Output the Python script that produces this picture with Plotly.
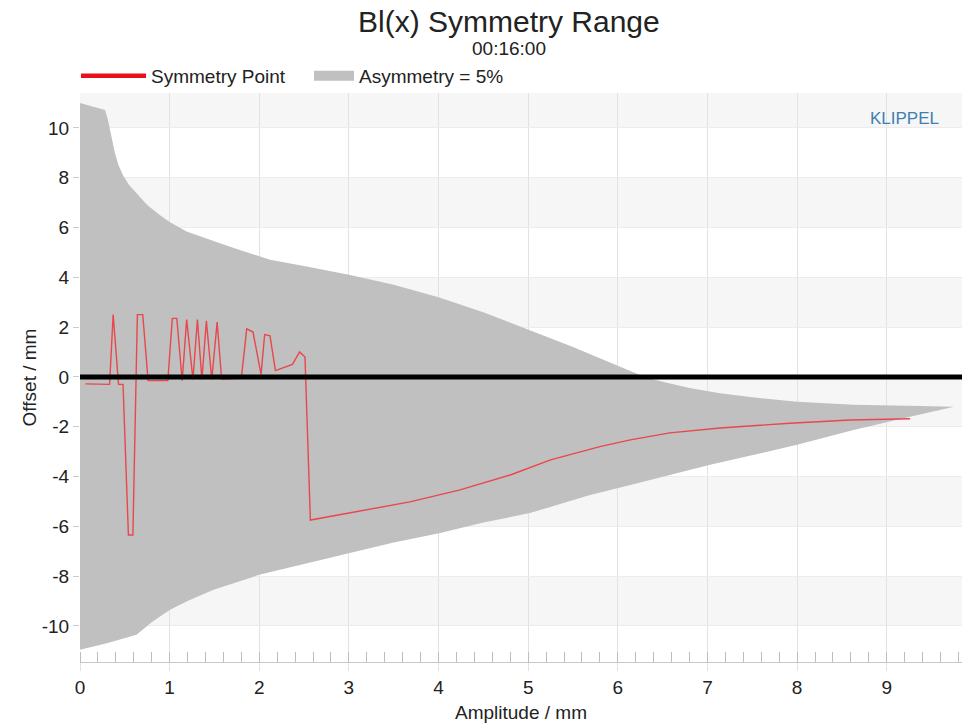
import plotly.graph_objects as go

# ---- data ----
upper_x = [0, 0.28, 0.31, 0.335, 0.36, 0.39, 0.43, 0.48, 0.55, 0.63, 0.75, 0.89, 1.0, 1.19, 1.37, 1.56, 1.8,
           2.12, 2.5, 3.0, 3.5, 4.0, 4.5, 5.0, 5.5, 6.0, 6.3, 6.5, 6.8, 7.14, 7.5, 8.0, 8.63, 9.38, 9.75]
upper_y = [11.0, 10.72, 10.35, 9.92, 9.45, 8.98, 8.5, 8.1, 7.7, 7.38, 6.9, 6.5, 6.22, 5.84, 5.6, 5.37, 5.08,
           4.7, 4.45, 4.1, 3.7, 3.2, 2.6, 1.9, 1.2, 0.45, 0.0, -0.2, -0.45, -0.66, -0.82, -1.0, -1.12, -1.17, -1.2]
lower_x = [0, 0.3, 0.63, 0.8, 1.0, 1.2, 1.49, 2.0, 2.46, 3.01, 3.5, 4.02, 4.5, 5.02, 5.69,
           6.14, 7.03, 8.0, 8.63, 9.26, 9.75]
lower_y = [-10.96, -10.7, -10.36, -9.85, -9.36, -9.0, -8.55, -7.95, -7.55, -7.07, -6.65, -6.27, -5.85, -5.47, -4.74,
           -4.34, -3.53, -2.73, -2.13, -1.6, -1.2]

sym_x = [0.06, 0.33, 0.37, 0.43, 0.48, 0.54, 0.59, 0.64, 0.70, 0.76, 0.98, 1.03, 1.08, 1.14, 1.19,
         1.26, 1.31, 1.36, 1.41, 1.47, 1.53, 1.58, 1.80, 1.86, 1.93, 2.02, 2.06, 2.12, 2.18, 2.37,
         2.45, 2.51, 2.57, 3.01, 3.68, 4.24, 4.80, 5.25, 5.80, 6.14, 6.58, 7.14, 7.92, 8.59, 9.26]
sym_y = [-0.28, -0.3, 2.5, -0.3, -0.3, -6.35, -6.35, 2.5, 2.5, -0.15, -0.15, 2.35, 2.35, -0.15, 2.3,
         -0.1, 2.3, -0.1, 2.25, -0.1, 2.2, -0.1, -0.05, 1.93, 1.8, 0.1, 1.7, 1.65, 0.25, 0.5,
         1.0, 0.8, -5.75, -5.47, -5.02, -4.54, -3.94, -3.33, -2.8, -2.53, -2.25, -2.05, -1.86, -1.73, -1.68]

x_ticks = [0, 1, 2, 3, 4, 5, 6, 7, 8, 9]
y_ticks = [-10, -8, -6, -4, -2, 0, 2, 4, 6, 8, 10]
y_tick_labels = ["-10", "-8", "-6", "-4", "-2", "0", "2", "4", "6", "8", "10"]
band_edges = [(10, 11.4), (6, 8), (2, 4), (-2, 0), (-6, -4), (-10, -8)]

title = "Bl(x) Symmetry Range"
subtitle = "00:16:00"
x_title = "Amplitude / mm"
y_title = "Offset / mm"

FONT = "Liberation Sans, Arial, sans-serif"
TXT = "#222222"
X_RANGE = [0, 9.84]
Y_RANGE = [-11.45, 11.4]
GRAY = "#c0c0c0"

fig = go.Figure()

# gray asymmetry area
fig.add_trace(go.Scatter(
    x=upper_x + lower_x[::-1], y=upper_y + lower_y[::-1],
    mode="lines", fill="toself", fillcolor=GRAY,
    line=dict(width=0, color=GRAY),
    name="Asymmetry = 5%", showlegend=False, hoverinfo="skip"))

# symmetry point line
fig.add_trace(go.Scatter(
    x=sym_x, y=sym_y, mode="lines",
    line=dict(color="#e8474c", width=1.4),
    name="Symmetry Point", showlegend=False))

# legend entries
fig.add_trace(go.Scatter(
    x=[None], y=[None], mode="lines",
    line=dict(color="#e8101a", width=4.5),
    name="Symmetry Point", legend="legend"))
fig.add_trace(go.Scatter(
    x=[None], y=[None], mode="lines",
    line=dict(color=GRAY, width=19),
    name="Asymmetry = 5%", legend="legend2"))

shapes = []
for lo, hi in band_edges:
    shapes.append(dict(type="rect", xref="paper", x0=0, x1=1, yref="y", y0=lo, y1=hi,
                       fillcolor="#f6f6f6", line=dict(width=0), layer="below"))
shapes.append(dict(type="line", xref="paper", x0=0, x1=1, yref="y", y0=0, y1=0,
                   line=dict(color="black", width=5), layer="above"))

PLOT_LEFT, PLOT_RIGHT = 80, 962
PLOT_TOP, PLOT_BOTTOM = 93, 662
def ypix(py):
    return (PLOT_BOTTOM - py) / (PLOT_BOTTOM - PLOT_TOP)
def xpix(px):
    return (px - PLOT_LEFT) / (PLOT_RIGHT - PLOT_LEFT)

legend_common = dict(orientation="h", xanchor="left", xref="paper",
                     y=1 - 57 / 725, yanchor="top", yref="container",
                     font=dict(size=19, color=TXT, family=FONT),
                     bgcolor="rgba(0,0,0,0)")

fig.update_layout(
    width=962, height=725,
    margin=dict(l=PLOT_LEFT, r=0, t=PLOT_TOP, b=725 - PLOT_BOTTOM, autoexpand=False),
    paper_bgcolor="white", plot_bgcolor="white",
    font=dict(family=FONT, color=TXT, size=19),
    shapes=shapes,
    showlegend=True,
    legend=dict(x=xpix(76), itemwidth=65, **legend_common),
    legend2=dict(x=xpix(309), itemwidth=40, **legend_common),
    annotations=[
        dict(text=title, xref="paper", yref="paper", x=xpix(509), y=ypix(22),
             xanchor="center", yanchor="middle", showarrow=False,
             font=dict(size=30, color=TXT, family=FONT)),
        dict(text=subtitle, xref="paper", yref="paper", x=xpix(509), y=ypix(48),
             xanchor="center", yanchor="middle", showarrow=False,
             font=dict(size=19, color=TXT, family=FONT)),
        dict(text="KLIPPEL", xref="paper", yref="paper", x=xpix(904), y=ypix(118),
             xanchor="center", yanchor="middle", showarrow=False,
             font=dict(size=17, color="#3f7fb0", family=FONT)),
    ],
)

fig.update_xaxes(
    range=X_RANGE, tickvals=x_ticks, showgrid=True, gridcolor="#e2e2e2", gridwidth=1,
    zeroline=False, showline=True, linecolor="#c8c8c8", linewidth=1,
    ticks="outside", ticklen=8, tickcolor="#e2e2e2",
    tickfont=dict(size=19, color=TXT),
    minor=dict(dtick=0.2, ticks="inside", ticklen=10, tickcolor="#bdbdbd", showgrid=False),
    title=dict(text=x_title, font=dict(size=19, color=TXT), standoff=8),
)
fig.update_yaxes(
    range=Y_RANGE, tickvals=y_ticks, ticktext=y_tick_labels,
    showgrid=True, gridcolor="#ececec", gridwidth=1,
    zeroline=False, showline=False,
    ticks="outside", ticklen=6, tickcolor="#cccccc",
    tickfont=dict(size=19, color=TXT),
    title=dict(text=y_title, font=dict(size=19, color=TXT), standoff=0),
)

fig.write_html("out.html")
